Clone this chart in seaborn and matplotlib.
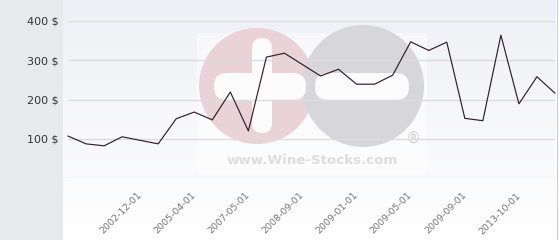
import numpy as np
import matplotlib
matplotlib.use("Agg")
import matplotlib.pyplot as plt
import matplotlib.patches as mpatches
import seaborn as sns
import pandas as pd

# ---- data ----
values = [107, 87, 82, 105, 96, 87, 151, 168, 148, 219, 120, 308, 318, 289,
          260, 277, 239, 239, 262, 347, 325, 346, 152, 146, 364, 189, 258, 216]
tick_idx = [4, 7, 10, 13, 16, 19, 22, 25]
tick_labels = ["2002-12-01", "2005-04-01", "2007-05-01", "2008-09-01",
               "2009-01-01", "2009-05-01", "2009-09-01", "2013-10-01"]
y_ticks = [0, 100, 200, 300, 400]
y_labels = ["", "100 $", "200 $", "300 $", "400 $"]

df = pd.DataFrame({"idx": np.arange(len(values)), "price": values})

sns.set_theme(style="white")
plt.rcParams["font.family"] = ["DejaVu Sans"]

W, H = 560, 240
fig = plt.figure(figsize=(W / 100, H / 100), dpi=100)
fig.patch.set_facecolor("white")

# background axes in pixel coordinates (top-down)
bg = fig.add_axes([0, 0, 1, 1], zorder=0)
bg.set_xlim(0, W)
bg.set_ylim(H, 0)
bg.axis("off")

# plot-area gradient
grad = np.linspace(0, 1, 256).reshape(-1, 1)
top = np.array([0.937, 0.941, 0.961])
bot = np.array([1.0, 1.0, 1.0])
img = top[None, None, :] * (1 - grad[:, :, None]) + bot[None, None, :] * grad[:, :, None]
bg.imshow(img, extent=[63, 556, 240, 0], aspect="auto", zorder=0)
# left grey panel
bg.add_patch(mpatches.Rectangle((0, 0), 63, H, color="#e6eaed", zorder=1, lw=0))
# right border line
bg.add_patch(mpatches.Rectangle((557, 0), 1, H, color="#c8c8c8", zorder=1, lw=0))

# watermark
bg.add_patch(mpatches.Rectangle((197, 33), 230, 140, color="white", alpha=0.5, lw=0, zorder=2))
bg.add_patch(mpatches.Circle((257, 86), 58, color="#ead2d9", lw=0, zorder=3))
bg.add_patch(mpatches.Circle((363, 86), 61, color="#d7d7d9", lw=0, zorder=3))
bg.add_patch(mpatches.FancyBboxPatch((252, 38), 20, 95,
             boxstyle="round,pad=0,rounding_size=10", color="#fbfbfc", lw=0, zorder=4))
bg.add_patch(mpatches.FancyBboxPatch((214, 73), 92, 27,
             boxstyle="round,pad=0,rounding_size=13", color="#fbfbfc", lw=0, zorder=4))
bg.add_patch(mpatches.FancyBboxPatch((315, 73), 94, 27,
             boxstyle="round,pad=0,rounding_size=13", color="#fbfbfc", lw=0, zorder=4))
bg.text(312, 161, "www.Wine-Stocks.com", ha="center", va="center",
        fontsize=9.6, fontweight="bold", color="#dddddf", zorder=4)
bg.text(413, 138, "®", ha="center", va="center", fontsize=11,
        color="#d2d2d4", zorder=4)

# main axes
ax = fig.add_axes([68 / W, 1 - 178 / H, (555 - 68) / W, (178 - 21) / H], zorder=1)
ax.patch.set_alpha(0)
sns.lineplot(data=df, x="idx", y="price", ax=ax, color="#2e1f2a", lw=0.85)
ax.set_xlim(0, len(values) - 1)
ax.set_ylim(0, 400)
ax.set_yticks(y_ticks)
ax.set_yticklabels(y_labels)
ax.set_xticks(tick_idx)
ax.set_xticklabels(tick_labels, rotation=45, ha="right", va="center",
                   rotation_mode="anchor", fontsize=6.8, color="#777777")
ax.tick_params(axis="x", length=0, pad=11.5)
ax.tick_params(axis="y", length=0, pad=6.5, labelsize=8, labelcolor="#333333")
for lab in ax.get_yticklabels():
    lab.set_color("#333333")
ax.grid(axis="y", color="#dcdcdc", lw=1)
ax.grid(axis="x", visible=False)
ax.set_axisbelow(True)
for s in ax.spines.values():
    s.set_visible(False)
ax.set_xlabel("")
ax.set_ylabel("")
for l in ax.get_lines():
    l.set_clip_on(False)

fig.savefig("out.png", dpi=100)
